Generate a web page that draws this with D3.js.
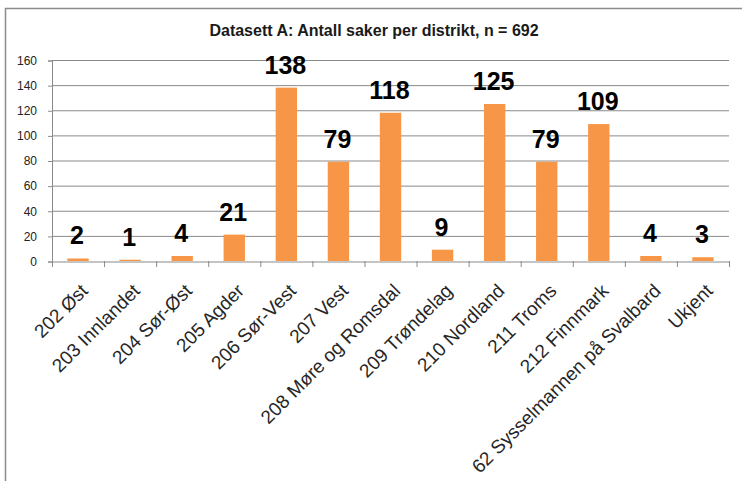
<!DOCTYPE html>
<html>
<head>
<meta charset="utf-8">
<script src="https://cdn.jsdelivr.net/npm/d3@7"></script>
<style>
	body { margin: 0; background: #fff; }
	svg { display: block; font-family: "Liberation Sans", Arial, sans-serif; }
</style>
</head>
<body>
<svg id="chart" width="742" height="481"></svg>
<script>
// districts and number of cases
var districts = ["202 Øst", "203 Innlandet", "204 Sør-Øst", "205 Agder", "206 Sør-Vest", "207 Vest",
	"208 Møre og Romsdal", "209 Trøndelag", "210 Nordland", "211 Troms", "212 Finnmark",
	"62 Sysselmannen på Svalbard", "Ukjent"];
var cases = [2, 1, 4, 21, 138, 79, 118, 9, 125, 79, 109, 4, 3];
var yTicks = [0, 20, 40, 60, 80, 100, 120, 140, 160];
var chartTitle = "Datasett A: Antall saker per distrikt, n = 692";

var dataSet = districts.map(function(d, i){ return {name: d, value: cases[i]}; });

var svg = d3.select("#chart");

// outer frame (only left and top edge are inside the picture)
svg.append("rect")
	.attr("x", 5.5).attr("y", 8.5)
	.attr("width", 800).attr("height", 600)
	.attr("fill", "none")
	.attr("stroke", "#8c8c8c")
	.attr("stroke-width", 1.5);

svg.append("text")
	.attr("x", 374).attr("y", 36)
	.attr("text-anchor", "middle")
	.attr("font-weight", "bold")
	.attr("font-size", "16px")
	.attr("fill", "#1a1a1a")
	.text(chartTitle);

var plotLeft = 52, plotRight = 729, plotTop = 60, plotBottom = 261;

var xScale = d3.scaleBand()
	.domain(districts)
	.range([plotLeft, plotRight]);
var yScale = d3.scaleLinear()
	.domain([0, 160])
	.range([plotBottom, plotTop]);

var barW = xScale.bandwidth() * 0.41;

// gridlines
svg.append("g")
	.selectAll("line.grid")
	.data(yTicks.slice(1))
	.enter().append("line")
	.attr("class", "grid")
	.attr("x1", plotLeft).attr("x2", plotRight)
	.attr("y1", function(d){ return yScale(d) + 0.5; })
	.attr("y2", function(d){ return yScale(d) + 0.5; })
	.attr("stroke", "#8a8a8a")
	.attr("stroke-width", 1);

// y axis
var yAxis = svg.append("g")
	.attr("transform", "translate(" + plotLeft + ",0.5)")
	.call(d3.axisLeft(yScale).tickValues(yTicks).tickSize(4).tickPadding(11));
yAxis.selectAll("path, line").attr("stroke", "#8a8a8a");
yAxis.selectAll("text")
	.attr("font-size", "12px")
	.attr("font-family", "Liberation Sans, Arial, sans-serif")
	.attr("fill", "#222");

// bars
svg.selectAll("rect.bar")
	.data(dataSet)
	.enter().append("rect")
	.attr("class", "bar")
	.attr("x", function(d){ return xScale(d.name) + (xScale.bandwidth() - barW) / 2; })
	.attr("y", function(d){ return yScale(d.value); })
	.attr("width", barW)
	.attr("height", function(d){ return plotBottom - yScale(d.value); })
	.attr("fill", "#f79646");

// value labels
svg.selectAll("text.value")
	.data(dataSet)
	.enter().append("text")
	.attr("class", "value")
	.attr("x", function(d){ return xScale(d.name) + xScale.bandwidth() / 2 - 1; })
	.attr("y", function(d){ return yScale(d.value) - 14; })
	.attr("text-anchor", "middle")
	.attr("font-weight", "bold")
	.attr("font-size", "25px")
	.attr("fill", "#000")
	.text(function(d){ return d.value; });

// x axis
var xAxis = svg.append("g")
	.attr("transform", "translate(0," + (plotBottom + 0.5) + ")")
	.call(d3.axisBottom(xScale).tickSize(0).tickSizeOuter(0).tickFormat(""));
xAxis.select("path").attr("stroke", "#8a8a8a");

// tick marks on band edges
svg.append("g")
	.selectAll("line.xtick")
	.data(districts.concat(["end"]))
	.enter().append("line")
	.attr("class", "xtick")
	.attr("x1", function(d, i){ return plotLeft + i * xScale.step() + 0.5; })
	.attr("x2", function(d, i){ return plotLeft + i * xScale.step() + 0.5; })
	.attr("y1", plotBottom).attr("y2", plotBottom + 6)
	.attr("stroke", "#8a8a8a");

// rotated category labels
svg.selectAll("text.cat")
	.data(districts)
	.enter().append("text")
	.attr("class", "cat")
	.attr("transform", function(d){
		return "translate(" + (xScale(d) + xScale.bandwidth() / 2 + 11) + "," + 292 + ") rotate(-45)";
	})
	.attr("text-anchor", "end")
	.attr("font-size", "19px")
	.attr("fill", "#262626")
	.text(function(d){ return d; });
</script>
</body>
</html>
